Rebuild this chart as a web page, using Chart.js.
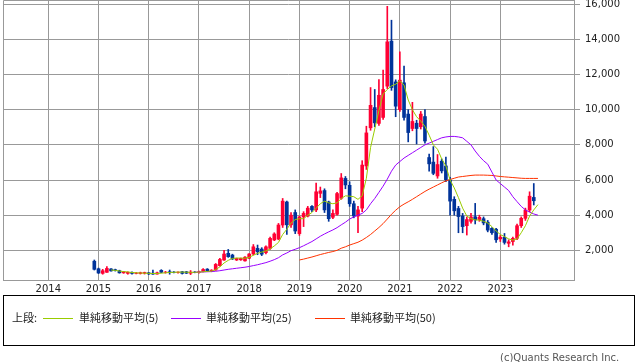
<!DOCTYPE html>
<html><head><meta charset="utf-8">
<script src="https://cdn.jsdelivr.net/npm/chart.js@4.4.1/dist/chart.umd.min.js"></script>
<style>
html,body{margin:0;padding:0;background:#fff;}
#wrap{position:relative;width:638px;height:362px;overflow:hidden;background:#fff;}
#c{position:absolute;left:0;top:0;}
#legend{position:absolute;left:3px;top:295px;width:630px;height:49px;border:1px solid #000;font-family:"Noto Sans CJK JP",sans-serif;font-size:11px;color:#222;}
#legend .t{position:absolute;top:13px;line-height:16px;white-space:nowrap;}
#legend .sw{position:absolute;top:22px;width:30px;height:1px;}
#copy{position:absolute;left:500px;top:352px;font-family:"DejaVu Sans",sans-serif;font-size:10px;line-height:12px;color:#555;white-space:nowrap;}
</style></head>
<body>
<div id="wrap">
<canvas id="c" width="638" height="300"></canvas>
<div id="legend">
  <span class="t" style="left:8px">上段:</span>
  <span class="sw" style="left:39px;background:#99cc00"></span>
  <span class="t" style="left:75px">単純移動平均(5)</span>
  <span class="sw" style="left:167px;background:#9900ff"></span>
  <span class="t" style="left:202px">単純移動平均(25)</span>
  <span class="sw" style="left:311px;background:#ff3300"></span>
  <span class="t" style="left:346px">単純移動平均(50)</span>
</div>
<div id="copy">(c)Quants Research Inc.</div>
</div>
<script>
// ---- categories (monthly candles; the last month has only moving-average values) ----
const months = [
 '2014-12',
 '2015-01','2015-02','2015-03','2015-04','2015-05','2015-06','2015-07','2015-08','2015-09','2015-10','2015-11','2015-12',
 '2016-01','2016-02','2016-03','2016-04','2016-05','2016-06','2016-07','2016-08','2016-09','2016-10','2016-11','2016-12',
 '2017-01','2017-02','2017-03','2017-04','2017-05','2017-06','2017-07','2017-08','2017-09','2017-10','2017-11','2017-12',
 '2018-01','2018-02','2018-03','2018-04','2018-05','2018-06','2018-07','2018-08','2018-09','2018-10','2018-11','2018-12',
 '2019-01','2019-02','2019-03','2019-04','2019-05','2019-06','2019-07','2019-08','2019-09','2019-10','2019-11','2019-12',
 '2020-01','2020-02','2020-03','2020-04','2020-05','2020-06','2020-07','2020-08','2020-09','2020-10','2020-11','2020-12',
 '2021-01','2021-02','2021-03','2021-04','2021-05','2021-06','2021-07','2021-08','2021-09','2021-10','2021-11','2021-12',
 '2022-01','2022-02','2022-03','2022-04','2022-05','2022-06','2022-07','2022-08','2022-09','2022-10','2022-11','2022-12',
 '2023-01','2023-02','2023-03','2023-04','2023-05','2023-06','2023-07','2023-08','2023-09','2023-10'
];
const open = [
 1380,
 950,690,750,940,900,840,720,690,750,690,680,700,
 720,700,650,860,750,780,760,740,780,780,700,760,
 740,790,930,820,880,1130,1450,1830,1730,1450,1460,1400,
 1550,1790,2110,2070,1870,2110,2590,2640,3440,4750,3450,4150,
 2950,3900,3950,4500,4300,5240,5400,4750,3880,4050,4960,6090,
 5700,4650,3950,4400,6800,8970,10120,9220,9560,11340,13900,11580,
 10010,11530,9750,8930,9230,9030,9610,7280,7020,6230,7070,6800,
 6000,4900,4380,3950,3400,3650,3910,3750,3800,3600,3250,3200,
 2650,2740,2400,2500,2680,3400,3820,4290,5010,null
];
const high = [
 1450,
 990,920,1070,960,930,870,800,780,770,740,760,760,
 740,880,760,900,800,880,790,780,800,800,850,790,
 820,960,960,900,1250,1550,2000,2050,1780,1560,1560,1650,
 1820,2330,2300,2150,2250,2750,3000,3530,4950,4800,4150,4300,
 3950,4200,4500,4550,5820,5600,5500,4800,4300,5300,6370,6200,
 5900,4800,4500,7100,9060,11260,11150,11720,12250,15880,15090,11700,
 13290,12480,10000,10420,9400,9900,10000,7480,7900,7450,7200,7300,
 6150,5050,4500,4100,3900,4100,4670,4000,3900,3700,3300,3250,
 2850,2960,2600,2750,3500,3900,4400,5330,5800,null
];
const low = [
 880,
 680,640,740,810,820,700,690,640,650,660,650,650,
 620,630,640,720,700,640,720,700,650,680,620,720,
 700,770,800,780,860,1100,1420,1600,1480,1420,1430,1380,
 1520,1730,1750,1700,1800,2050,2550,2600,3300,2900,3300,2950,
 2850,3350,3900,4200,4200,5000,4150,3650,3800,4000,4900,5500,
 4500,3850,3000,4200,6600,8830,9030,9100,9450,11200,11100,9600,
 9900,9400,8170,8800,8050,8900,8100,6500,6300,6100,6400,5900,
 4000,4000,3000,3000,2870,3550,3500,3650,3450,3050,2900,2450,
 2500,2350,2200,2300,2600,3300,3700,4200,4580,null
];
const close = [
 920,
 710,840,970,830,850,720,780,750,690,710,730,740,
 660,650,720,750,760,740,740,760,690,700,760,740,
 780,910,810,870,1200,1480,1790,1640,1510,1540,1540,1610,
 1790,2200,1920,1780,2200,2680,2930,3440,4800,3450,4000,3100,
 3900,4100,4400,4300,5330,5380,4300,3800,4100,5230,6120,5720,
 4650,3950,4300,6850,8680,10250,9250,10820,11150,13860,11260,10200,
 11680,9560,8700,9330,8930,9750,8220,6920,6380,6880,6520,6020,
 4800,4250,3920,3350,3750,3900,3730,3880,3560,3150,3000,2600,
 2750,2450,2480,2680,3400,3820,4290,5080,4820,null
];
// ---- moving averages ----
const ma5Start = '2015-04';
const ma5 = [
 880,860,820,790,770,740,720,710,700,
 690,680,680,700,720,740,750,760,760,755,750,750,
 760,780,800,820,900,1060,1280,1430,1540,1560,1560,1550,
 1600,1720,1830,1900,1960,2080,2250,2450,2900,3200,3550,3750,
 3800,3800,4000,4150,4400,4650,4800,4700,4650,4700,4950,5100,
 5080,5050,4900,5100,6100,7850,8900,9950,10900,11150,11350,11450,
 11650,11400,10550,10000,9600,9350,9050,8550,8000,7750,7200,6800,
 6000,5550,5000,4400,3950,3800,3730,3720,3650,3550,3350,3100,
 2900,2780,2650,2580,2650,3000,3400,3950,4300,4600
];
const ma25Start = '2016-12';
const ma25 = [
 750,
 760,770,780,790,810,840,880,920,950,980,1010,1040,
 1080,1130,1180,1240,1300,1380,1470,1580,1740,1850,1980,2060,
 2150,2260,2380,2500,2650,2800,2930,3050,3160,3290,3450,3600,
 3780,3900,4000,4100,4300,4650,4950,5300,5650,6050,6500,6850,
 7050,7250,7400,7550,7700,7850,8000,8100,8200,8300,8400,8450,
 8480,8480,8450,8400,8200,8000,7650,7350,7100,6900,6450,6000,
 5800,5600,5400,5050,4770,4500,4300,4170,4070,4000
];
const ma50Start = '2019-01';
const ma50 = [
 1450,1500,1560,1620,1690,1760,1820,1880,1930,2000,2120,2200,
 2300,2380,2460,2580,2730,2900,3100,3300,3520,3780,4050,4280,
 4480,4630,4760,4900,5050,5200,5350,5480,5600,5720,5840,5950,
 6030,6100,6170,6200,6230,6260,6280,6280,6280,6270,6260,6230,
 6200,6180,6160,6140,6120,6100,6090,6090,6090,6090
];
// ---- tick labels ----
const yearTicks = [2014,2015,2016,2017,2018,2019,2020,2021,2022,2023];
const yTicks = [2000,4000,6000,8000,10000,12000,14000,16000];

const toIdx = s => { const p = s.split('-').map(Number); return (p[0]-2000)*12 + (p[1]-1); };
const xs = months.map(toIdx);
const RED = '#ff0033', BLUE = '#003399';
const idx = xs.map((x,i) => i).filter(i => open[i] !== null);
const colors = idx.map(i => close[i] >= open[i] ? RED : BLUE);
const wickData = idx.map(i => ({x: xs[i], y:[low[i], high[i]]}));
const bodyData = idx.map(i => ({x: xs[i], y:[open[i], close[i]]}));
const maPts = (arr, start) => { const s = months.indexOf(start); return arr.map((v,j) => ({x: xs[s+j], y: v})); };

const frame = {
  id:'frame',
  beforeDatasetsDraw(chart){
    const {left, top, right, bottom} = chart.chartArea;
    const c = chart.ctx; c.save();
    c.strokeStyle = '#999'; c.lineWidth = 1;
    c.beginPath();
    c.moveTo(Math.round(left)+0.5, bottom);
    c.lineTo(Math.round(left)+0.5, Math.round(top)+0.5);
    c.lineTo(right, Math.round(top)+0.5);
    c.stroke(); c.restore();
  }
};
const tickFont = {family:'DejaVu Sans', size:10};
new Chart(document.getElementById('c').getContext('2d'), {
  type:'bar',
  data:{ datasets:[
    {type:'line', data:maPts(ma5, ma5Start), borderColor:'#99cc00', borderWidth:1, pointRadius:0, tension:0, order:1},
    {type:'line', data:maPts(ma25, ma25Start), borderColor:'#9900ff', borderWidth:1, pointRadius:0, tension:0, order:1},
    {type:'line', data:maPts(ma50, ma50Start), borderColor:'#ff3300', borderWidth:1, pointRadius:0, tension:0, order:1},
    {type:'bar', data:bodyData, backgroundColor:colors, borderWidth:0, barThickness:3, grouped:false, order:2},
    {type:'bar', data:wickData, backgroundColor:colors, borderWidth:0, barThickness:1, grouped:false, order:3}
  ]},
  options:{
    responsive:false, animation:false, devicePixelRatio:1,
    layout:{padding:{left:3, top:0, right:0, bottom:0}},
    plugins:{legend:{display:false}, tooltip:{enabled:false}},
    scales:{
      x:{type:'linear', min:157.18, max:293.61, offset:false,
        afterBuildTicks: s => { s.ticks = yearTicks.map(y => ({value:(y-2000)*12})); },
        afterFit: s => { s.height = 20; s.paddingLeft = 0; s.paddingRight = 0; },
        ticks:{callback: v => String(2000 + Math.round(v/12)), font:tickFont, color:'#222', padding:3, maxRotation:0, autoSkip:false},
        grid:{color:'#999', lineWidth:1, drawTicks:false, offset:false},
        border:{color:'#999'}
      },
      y:{type:'linear', position:'right', min:312, max:16240,
        afterBuildTicks: s => { s.ticks = yTicks.map(v => ({value:v})); },
        afterFit: s => { s.width = 64; s.paddingTop = 0; s.paddingBottom = 0; },
        ticks:{callback: v => v.toLocaleString('en-US'), font:tickFont, color:'#222', padding:5},
        grid:{color:'#999', tickColor:'#999', tickLength:6},
        border:{color:'#999'}
      }
    }
  },
  plugins:[frame]
});
</script>
</body></html>
